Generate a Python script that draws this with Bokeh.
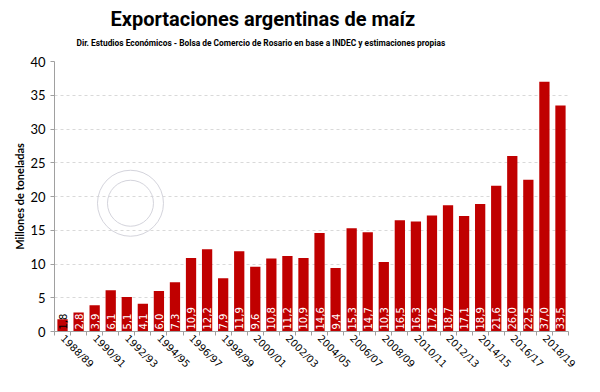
import math
from bokeh.plotting import figure
from bokeh.models import Range1d, FixedTicker, Title, ColumnDataSource
from bokeh.core.properties import value
from bokeh.embed import file_html
from bokeh.resources import INLINE

# ---- data ----
seasons = ["1988/89", "1989/90", "1990/91", "1991/92", "1992/93", "1993/94",
           "1994/95", "1995/96", "1996/97", "1997/98", "1998/99", "1999/00",
           "2000/01", "2001/02", "2002/03", "2003/04", "2004/05", "2005/06",
           "2006/07", "2007/08", "2008/09", "2009/10", "2010/11", "2011/12",
           "2012/13", "2013/14", "2014/15", "2015/16", "2016/17", "2017/18",
           "2018/19", "2019/20"]
exports = [1.8, 2.8, 3.9, 6.1, 5.1, 4.1, 6.0, 7.3, 10.9, 12.2, 7.9, 11.9,
           9.6, 10.8, 11.2, 10.9, 14.6, 9.4, 15.3, 14.7, 10.3, 16.5, 16.3, 17.2,
           18.7, 17.1, 18.9, 21.6, 26.0, 22.5, 37.0, 33.5]
y_ticks = [0, 5, 10, 15, 20, 25, 30, 35, 40]
title_text = "Exportaciones argentinas de maíz"
subtitle_text = ("Dir. Estudios Económicos - Bolsa de Comercio de Rosario en base a "
                 "INDEC y estimaciones propias")
y_title = "Millones de toneladas"

idx = list(range(len(seasons)))
labels = [f"{v:.1f}".replace(".", ",") for v in exports]
label_colors = ["black" if v < 2.5 else "white" for v in exports]

src = ColumnDataSource(dict(x=idx, v=exports, lbl=labels, col=label_colors))

p = figure(width=584, height=376, output_backend="svg", toolbar_location=None,
           x_range=Range1d(-0.5, len(seasons) - 0.5), y_range=Range1d(0, 40),
           min_border_left=54, min_border_right=16, min_border_top=61,
           min_border_bottom=40)
p.outline_line_color = None
p.background_fill_color = "white"
p.border_fill_color = "white"

# grid
p.xgrid.visible = False
p.ygrid.grid_line_color = "#d9d9d9"
p.ygrid.grid_line_dash = "3 3"
p.ygrid.grid_line_width = 1

# watermark (faint seal)
p.scatter(x=[4.23], y=[19.0], size=66, marker="circle", fill_color=None,
          line_color="#d4d4dc", line_width=1)
p.scatter(x=[4.23], y=[19.0], size=46, marker="circle", fill_color=None,
          line_color="#d4d4dc", line_width=1)

# bars
p.vbar(x="x", top="v", width=0.64, source=src, fill_color="#C00000",
       line_color=None)

# value labels
p.text(x="x", y=0, text="lbl", source=src, angle=math.pi / 2,
       text_align="left", text_baseline="middle", text_color="col",
       text_font=value("DejaVu Sans"), text_font_size="10px", y_offset=-2)

# x axis
xa = p.xaxis[0]
xa.ticker = FixedTicker(ticks=idx[::2], minor_ticks=[i - 0.5 for i in idx + [len(idx)]])
xa.major_label_overrides = {i: seasons[i] for i in idx[::2]}
xa.major_label_orientation = -math.pi / 4
xa.major_tick_out = 0
xa.major_tick_in = 0
xa.minor_tick_out = 4
xa.minor_tick_in = 0
xa.minor_tick_line_color = "#a0a0a0"
xa.axis_line_color = "#a0a0a0"
xa.major_label_text_font = "DejaVu Sans"
xa.major_label_text_font_size = "10px"
xa.major_label_text_color = "black"
xa.major_label_standoff = 1

# y axis
ya = p.yaxis[0]
ya.ticker = FixedTicker(ticks=y_ticks)
ya.minor_tick_line_color = None
ya.major_tick_out = 4
ya.major_tick_in = 0
ya.major_tick_line_color = "#a0a0a0"
ya.axis_line_color = "#a0a0a0"
ya.major_label_text_font = "Lato"
ya.major_label_text_font_size = "13px"
ya.major_label_text_color = "black"
ya.major_label_standoff = 5
ya.axis_label = y_title
ya.axis_label_text_font = "Lato"
ya.axis_label_text_font_style = "bold"
ya.axis_label_text_font_size = "11px"
ya.axis_label_text_color = "black"
ya.axis_label_standoff = 1

# titles
p.add_layout(Title(text=subtitle_text, align="left", offset=22,
                   text_font="Roboto", text_font_style="bold",
                   text_font_size="8.4px", text_color="black", standoff=27), "above")
p.add_layout(Title(text=title_text, align="left", offset=56,
                   text_font="Roboto", text_font_style="bold",
                   text_font_size="20px", text_color="black", standoff=-16), "above")

open("out.html", "w").write(file_html(p, INLINE))
